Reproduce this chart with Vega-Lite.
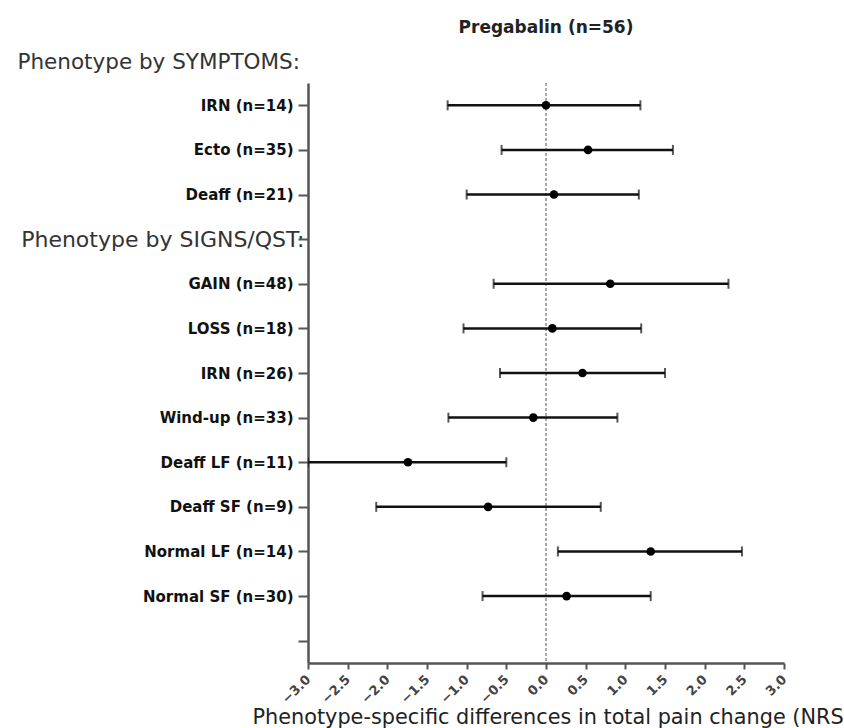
{
  "$schema": "https://vega.github.io/schema/vega-lite/v6.json",
  "width": 476,
  "height": 580,
  "autosize": {"type": "none"},
  "padding": {"left": 308, "top": 83, "right": 60, "bottom": 65},
  "background": "white",
  "config": {"view": {"stroke": null}, "font": "DejaVu Sans"},
  "title": {"text": "Pregabalin (n=56)", "fontSize": 17, "fontWeight": "bold", "color": "#222", "anchor": "middle", "offset": 6, "baseline": "middle"},
  "data": {"values": [
    {"cat": "IRN (n=14)", "est": 0.0, "lo": -1.24, "hi": 1.19},
    {"cat": "Ecto (n=35)", "est": 0.53, "lo": -0.56, "hi": 1.60},
    {"cat": "Deaff (n=21)", "est": 0.10, "lo": -1.00, "hi": 1.17},
    {"cat": "GAIN (n=48)", "est": 0.81, "lo": -0.66, "hi": 2.30},
    {"cat": "LOSS (n=18)", "est": 0.08, "lo": -1.04, "hi": 1.20},
    {"cat": "IRN (n=26)", "est": 0.46, "lo": -0.58, "hi": 1.50},
    {"cat": "Wind-up (n=33)", "est": -0.16, "lo": -1.23, "hi": 0.90},
    {"cat": "Deaff LF (n=11)", "est": -1.74, "lo": -3.0, "hi": -0.50},
    {"cat": "Deaff SF (n=9)", "est": -0.73, "lo": -2.14, "hi": 0.69},
    {"cat": "Normal LF (n=14)", "est": 1.32, "lo": 0.15, "hi": 2.47},
    {"cat": "Normal SF (n=30)", "est": 0.26, "lo": -0.80, "hi": 1.32}
  ]},
  "encoding": {
    "y": {
      "field": "cat", "type": "nominal",
      "scale": {"type": "point", "padding": 0.5, "domain": ["IRN (n=14)", "Ecto (n=35)", "Deaff (n=21)", "Phenotype by SIGNS/QST:", "GAIN (n=48)", "LOSS (n=18)", "IRN (n=26)", "Wind-up (n=33)", "Deaff LF (n=11)", "Deaff SF (n=9)", "Normal LF (n=14)", "Normal SF (n=30)", " "]},
      "axis": {
        "title": "Phenotype by SYMPTOMS:",
        "titleAngle": 0, "titleAlign": "left", "titleBaseline": "middle",
        "titleX": -291, "titleY": -21,
        "titleFontSize": 21.5, "titleFontWeight": "normal", "titleColor": "#333",
        "domainColor": "#555", "domainWidth": 2.5, "grid": false,
        "tickColor": "#555", "tickWidth": 2, "tickSize": 10,
        "labelLimit": 400,
        "labelPadding": {"condition": {"test": "datum.value == 'Phenotype by SIGNS/QST:'", "value": -6}, "value": 5},
        "labelFontSize": {"condition": {"test": "datum.value == 'Phenotype by SIGNS/QST:'", "value": 22}, "value": 15},
        "labelFontWeight": {"condition": {"test": "datum.value == 'Phenotype by SIGNS/QST:'", "value": "normal"}, "value": "bold"},
        "labelColor": {"condition": {"test": "datum.value == 'Phenotype by SIGNS/QST:'", "value": "#333"}, "value": "#111"}
      }
    },
    "x": {
      "field": "lo", "type": "quantitative", "scale": {"domain": [-3, 3], "nice": false, "zero": false},
      "axis": {
        "values": [-3, -2.5, -2, -1.5, -1, -0.5, 0, 0.5, 1, 1.5, 2, 2.5, 3],
        "format": ".1f", "labelAngle": -45, "labelAlign": "right", "labelBaseline": "middle",
        "labelOverlap": false, "labelBound": false, "labelFlush": false, "grid": false,
        "labelFontSize": 13, "labelFontWeight": "bold", "labelColor": "#444", "labelPadding": 8,
        "domainColor": "#555", "domainWidth": 2.5, "tickColor": "#555", "tickWidth": 2, "tickSize": 6,
        "title": "Phenotype-specific differences in total pain change (NRS",
        "titleFontSize": 20.8, "titleFontWeight": "normal", "titleColor": "#222",
        "titleAlign": "left", "titleBaseline": "middle", "titleAnchor": "start", "titleX": -56, "titleY": 54
      }
    }
  },
  "layer": [
    {
      "mark": {"type": "rule", "color": "#aaa", "strokeDash": [3, 2], "strokeWidth": 2},
      "encoding": {"x": {"datum": 0, "type": "quantitative"}, "y": null}
    },
    {
      "mark": {"type": "rule", "color": "#111", "strokeWidth": 2.5, "clip": true},
      "encoding": {"x2": {"field": "hi"}}
    },
    {
      "mark": {"type": "tick", "color": "#111", "thickness": 2, "size": 10, "clip": true},
      "encoding": {}
    },
    {
      "mark": {"type": "tick", "color": "#111", "thickness": 2, "size": 10, "clip": true},
      "encoding": {"x": {"field": "hi", "type": "quantitative"}}
    },
    {
      "mark": {"type": "point", "filled": true, "color": "#000", "size": 75, "opacity": 1},
      "encoding": {"x": {"field": "est", "type": "quantitative"}}
    }
  ]
}
